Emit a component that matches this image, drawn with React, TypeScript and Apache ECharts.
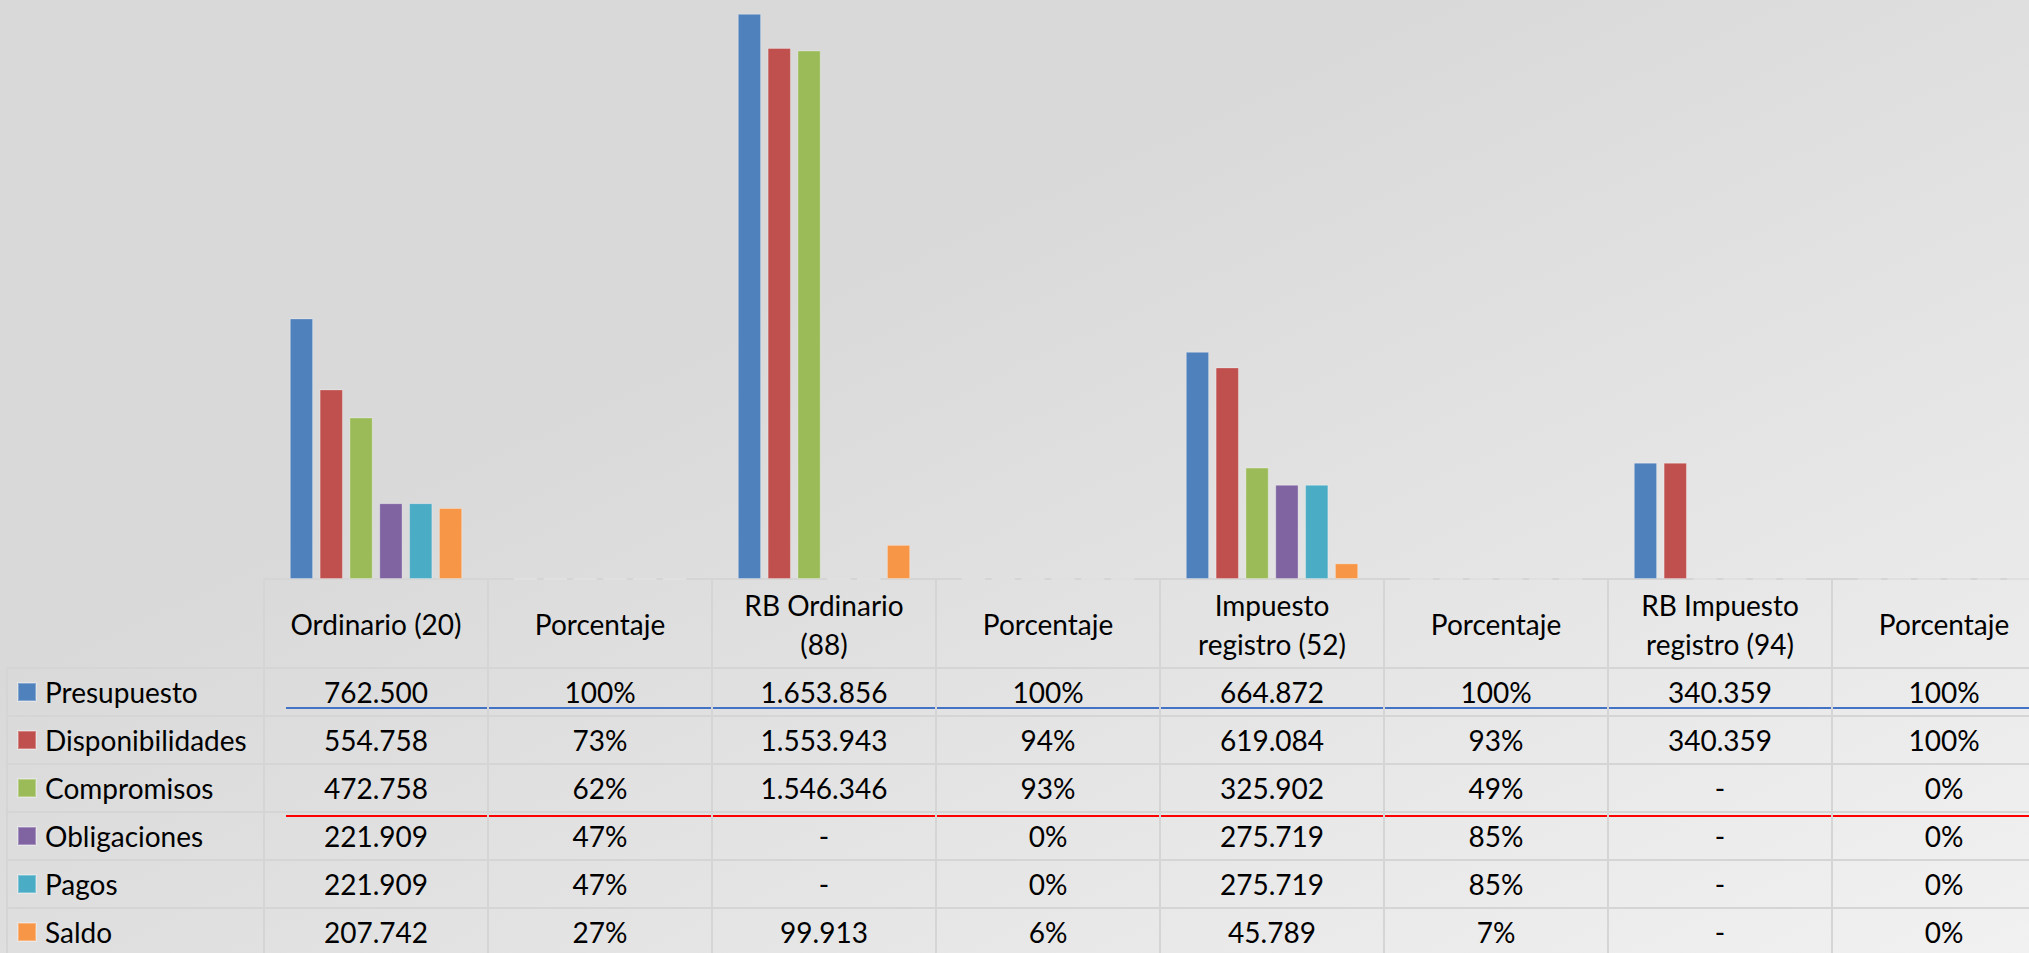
import React, { useEffect, useRef } from "react";
import * as echarts from "echarts";

const categories = [
  "Ordinario (20)",
  "Porcentaje",
  "RB Ordinario\n(88)",
  "Porcentaje",
  "Impuesto\nregistro (52)",
  "Porcentaje",
  "RB Impuesto\nregistro (94)",
  "Porcentaje",
];

const seriesNames = ["Presupuesto", "Disponibilidades", "Compromisos", "Obligaciones", "Pagos", "Saldo"];
const seriesColors = ["#4F81BD", "#C0504D", "#9BBB59", "#8064A2", "#4BACC6", "#F79646"];

const presupuesto = [762500, 1.0, 1653856, 1.0, 664872, 1.0, 340359, 1.0];
const disponibilidades = [554758, 0.73, 1553943, 0.94, 619084, 0.93, 340359, 1.0];
const compromisos = [472758, 0.62, 1546346, 0.93, 325902, 0.49, 0, 0];
const obligaciones = [221909, 0.47, 0, 0, 275719, 0.85, 0, 0];
const pagos = [221909, 0.47, 0, 0, 275719, 0.85, 0, 0];
const saldo = [207742, 0.27, 99913, 0.06, 45789, 0.07, 0, 0];

const seriesValues = [presupuesto, disponibilidades, compromisos, obligaciones, pagos, saldo];

const FONT = "Lato";
const FS = 28;

function fmtCell(v: number, idx: number): string {
  if (idx % 2 === 1) return Math.round(v * 100) + "%";
  if (v === 0) return "-";
  return String(Math.round(v)).replace(/\B(?=(\d{3})+(?!\d))/g, ".");
}

export default function App() {
  const ref = useRef<HTMLDivElement>(null);
  useEffect(() => {
    if (!ref.current) return;
    const chart = echarts.init(ref.current, undefined, { renderer: "svg" });

    const colW = 224;
    const left = 264;
    const baseY = 579;
    const rowH = 48;
    const firstRowCenter = 692;
    const lineColor = "#d5d5d5";

    const rowAxes = seriesValues.map((vals, r) => ({
      gridIndex: 0,
      type: "category",
      position: "bottom",
      data: categories,
      axisLine: { show: false, onZero: false },
      axisTick: { show: false },
      splitLine: { show: false },
      axisLabel: {
        interval: 0,
        margin: firstRowCenter - baseY + r * rowH,
        verticalAlign: "middle",
        fontSize: FS,
        fontFamily: FONT,
        color: "#000",
        formatter: (_: string, i: number) => fmtCell(vals[i], i),
      },
    }));

    const option: any = {
      animation: false,
      backgroundColor: {
        type: "linear",
        x: 0,
        y: 0,
        x2: 1,
        y2: 1,
        colorStops: [
          { offset: 0, color: "#d9d9d9" },
          { offset: 0.35, color: "#d9d9d9" },
          { offset: 1, color: "#f1f1f1" },
        ],
      },
      legend: {
        orient: "vertical",
        left: 17,
        top: 678,
        padding: 0,
        itemGap: 20,
        itemWidth: 18,
        itemHeight: 18,
        icon: "rect",
        selectedMode: false,
        data: seriesNames,
        textStyle: {
          fontSize: FS,
          fontFamily: FONT,
          color: "#000",
          lineHeight: 28,
          padding: [0, 0, 0, 4],
        },
      },
      grid: [
        { left: left, width: colW * 8, top: -2, height: baseY + 2, outerBoundsMode: "none", containLabel: false },
        { left: left, width: colW * 8, top: baseY + 1, height: 376, outerBoundsMode: "none", containLabel: false },
        { left: 7, width: left - 7 + colW * 8, top: 668, height: rowH * 6, outerBoundsMode: "none", containLabel: false },
      ],
      xAxis: [
        {
          gridIndex: 0,
          type: "category",
          position: "bottom",
          data: categories,
          axisLine: { show: true, onZero: false, lineStyle: { color: lineColor, width: 2 } },
          axisTick: { show: false },
          splitLine: { show: false },
          axisLabel: {
            interval: 0,
            margin: 45,
            verticalAlign: "middle",
            lineHeight: 39,
            fontSize: FS,
            fontFamily: FONT,
            color: "#000",
          },
        },
        ...rowAxes,
        {
          gridIndex: 1,
          type: "category",
          data: categories,
          axisLine: { show: false },
          axisTick: { show: false },
          axisLabel: { show: false },
          splitLine: { show: true, interval: 0, lineStyle: { color: lineColor, width: 2 } },
        },
        {
          gridIndex: 2,
          type: "value",
          show: false,
        },
      ],
      yAxis: [
        { gridIndex: 0, type: "value", min: 0, max: 1700000, show: false },
        { gridIndex: 1, type: "value", show: false },
        {
          gridIndex: 2,
          type: "category",
          inverse: true,
          data: seriesNames,
          axisLine: { show: true, lineStyle: { color: lineColor, width: 2 } },
          axisTick: { show: false },
          axisLabel: { show: false },
          splitLine: { show: true, interval: 0, lineStyle: { color: lineColor, width: 2 } },
        },
      ],
      series: seriesNames.map((name, i) => ({
        name,
        type: "bar",
        xAxisIndex: 0,
        yAxisIndex: 0,
        barWidth: 23.3,
        barGap: "28%",
        data: seriesValues[i],
        itemStyle: { color: seriesColors[i], borderColor: "rgba(255,255,255,0.3)", borderWidth: 1 },
      })),
      graphic: [
        {
          type: "line",
          shape: { x1: 286, y1: 708, x2: 2029, y2: 708 },
          style: { stroke: "#4472C4", lineWidth: 2 },
          silent: true,
        },
        {
          type: "line",
          shape: { x1: 286, y1: 816, x2: 2029, y2: 816 },
          style: { stroke: "#FF0000", lineWidth: 2 },
          silent: true,
        },
      ],
    };

    chart.setOption(option);
    return () => chart.dispose();
  }, []);

  return (
    <div
      ref={ref}
      style={{ position: "absolute", left: 0, top: 0, width: 2029, height: 953 }}
    />
  );
}
